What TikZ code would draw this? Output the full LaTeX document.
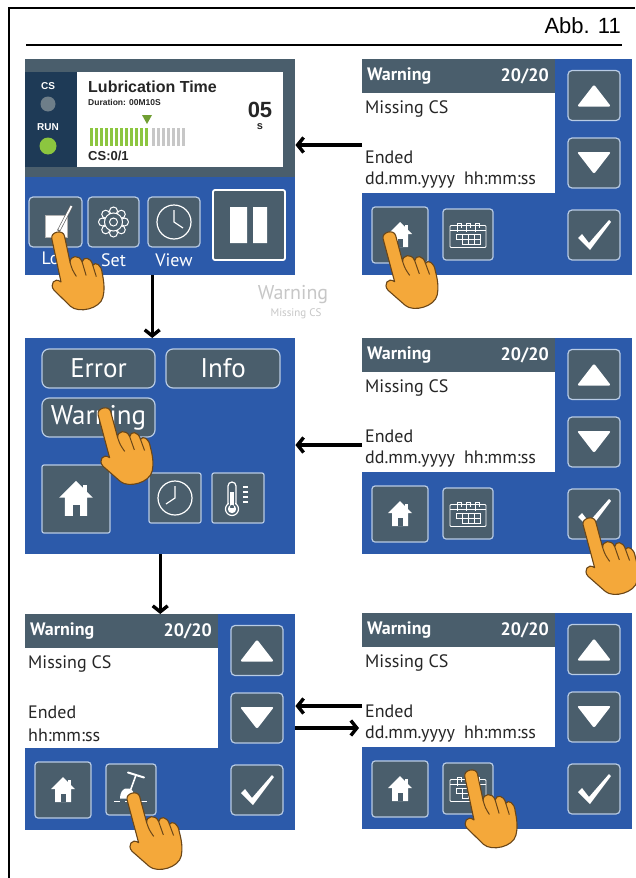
\documentclass[tikz,border=0pt]{standalone}
\usepackage{fontspec}
\setmainfont{PT Sans}
\newfontfamily\arialfont{Liberation Sans}
\usetikzlibrary{arrows.meta,calc,positioning}

\definecolor{scrblue}{HTML}{2C5AAA}
\definecolor{slate}{HTML}{4A5E6C}
\definecolor{navy}{HTML}{1E3A56}
\definecolor{btnedge}{HTML}{B8CBE4}
\definecolor{ledgreen}{HTML}{8CC63F}
\definecolor{handfill}{HTML}{F4A83A}
\definecolor{handline}{HTML}{6A4618}

\newcommand\fsz[1]{\fontsize{#1}{#1}\selectfont}

\tikzset{
  panel/.style={anchor=north west, fill=scrblue, minimum width=270, minimum height=216, inner sep=0pt},
  btn/.style={draw=btnedge, fill=slate, line width=1.2pt, rounded corners=4pt, inner sep=0pt, minimum width=52, minimum height=50},
  tab/.style={btn, rounded corners=7pt, minimum height=39, text=white, font=\fsz{27}},
  hdr/.style={inner sep=0pt, text=white, font=\bfseries\fsz{18}},
  msg/.style={inner sep=0pt, anchor=west, text=black!85, font=\fsz{18}},
  lcd/.style={inner sep=0pt, anchor=west, text=black!85},
  state/.style={inner sep=0pt, text=white, font=\arialfont\bfseries\fsz{10}},
  keylbl/.style={inner sep=0pt, text=white, font=\fsz{18}},
  ico/.style={draw=white, line width=1.2pt},
  flow/.style={line width=3.4pt, -{Straight Barb[length=6pt,width=15pt]}},
  % finger tip at the origin, hand hanging below it
  hand/.pic={
    \filldraw[fill=handfill, draw=handline, line width=1.1pt, line join=round]
      (-6,5) .. controls (-6,-1.5) and (6,-1.5) .. (6,5)
      -- (6,30)
      .. controls (7,24) and (16,24) .. (17,32)
      .. controls (19,27) and (26,29) .. (26,37)
      .. controls (29,34) and (34,38) .. (33,46)
      .. controls (33,55) and (32,62) .. (29,68)
      .. controls (24,78) and (4,78) .. (-2,70)
      -- (-14,52)
      .. controls (-17,46) and (-11,40) .. (-6,46)
      -- (-6,36) -- cycle;
    \draw[handline, line width=1pt] (6,30) .. controls (6.5,37) .. (9,44)
      (17,32) -- (18,45) (26,37) -- (27,48);
  },
  house/.pic={
    \fill[white] (5,-10) rectangle (8,-3);
    \fill[white] (0,-13) -- (12,-1) -- (8,-1) -- (8,12) -- (-8,12) -- (-8,-1) -- (-12,-1) -- cycle;
    \fill[slate] (-2.5,4) rectangle (2.5,12);
  },
  calendar/.pic={
    \draw[white, line width=0.9pt, rounded corners=1pt] (-18,-9) rectangle (18,13);
    \draw[white, line width=0.9pt] (-18,-4) -- (18,-4);
    \foreach \cx in {-9,0,9}
      \draw[white, line width=0.9pt] (\cx-2,-3) -- (\cx-2,-11) -- (\cx+2,-11) -- (\cx+2,-7);
    \draw[white, line width=0.8pt] (-6,0) rectangle (12,10) (-6,5) -- (12,5)
      (0,0) -- (0,10) (6,0) -- (6,10) (-12,0) rectangle (-6,5);
  },
  grease/.pic={
    \draw[white, line width=2pt, line cap=round] (-3,-17) -- (13,-12);
    \draw[white, line width=1.6pt] (5,-14.5) -- (-1,2);
    \fill[white] (-11,9) .. controls (-11,-2) and (-2,-4) .. (2,2) -- (3,9) -- cycle;
    \draw[white, line width=1.4pt] (-17,12) -- (-11,12) (-6,12) -- (16,12);
  },
  tri up/.pic={\fill[white, rounded corners=2pt] (-17,11) -- (17,11) -- (0,-11) -- cycle;},
  tri down/.pic={\fill[white, rounded corners=2pt] (-17,-11) -- (17,-11) -- (0,11) -- cycle;},
  tick/.pic={\fill[white] (-16,3) -- (-12,-1) -- (-5,8) -- (15,-15) -- (17,-13) -- (-4,15) -- cycle;},
  clock/.pic={
    \draw[ico] (0,0) circle (17);
    \draw[ico] (0,-12) -- (0,0) -- (#1);
  },
  gear/.pic={
    \foreach \a in {0,45,...,315}
      \draw[white, line width=1pt, fill=slate] (\a:11) circle (4);
    \draw[white, line width=1pt, fill=slate] (0,0) circle (9);
    \draw[white, line width=1pt] (0,0) circle (4);
  },
  notepad/.pic={
    \filldraw[fill=white, draw=black!30] (-10.5,-7) rectangle (11.5,15);
    \draw[black!60, line width=3.2pt] (3,9) -- (16,-16);
    \draw[white, line width=1.8pt] (3.6,7.8) -- (16,-16);
  },
  thermo/.pic={
    \draw[ico] (-6,11) circle (6.5);
    \fill[slate] (-9.4,2) rectangle (-2.6,7);
    \draw[ico, rounded corners=4pt] (-10,6) -- (-10,-16) -- (-2,-16) -- (-2,6);
    \fill[white] (-6,11) circle (4.2) (-7.8,-6) rectangle (-4.2,10);
    \foreach \ty in {-11,-6,-1,4}
      \draw[ico] (5,\ty) -- (10,\ty);
  }
}

% one warning screen: name, top left corner, last text line, pic on the second key
\newcommand\warnscreen[4]{%
  \begin{scope}[shift={#2}]
    \node[panel] (#1) at (0,0) {};
    \fill[slate] (0,0) rectangle (193,34);
    \fill[white] (0,34) rectangle (193,134);
    \node[hdr, anchor=west] (#1-title) at (5,17) {Warning};
    \node[hdr, anchor=east] (#1-count) at (187,17) {20/20};
    \node[msg] (#1-msg) at (3,50) {Missing CS};
    \node[msg] (#1-end) at (3,98) {Ended};
    \node[msg] (#1-time) at (3,121) {#3};
    \node[btn] (#1-up) at (232,36.5) {};
    \node[btn] (#1-down) at (232,104) {};
    \node[btn] (#1-ok) at (232,176) {};
    \node[btn, rounded corners=3pt, minimum width=56, minimum height=56] (#1-home) at (38,176) {};
    \node[btn, rounded corners=3pt, minimum width=50, minimum height=51] (#1-key) at (106,175.5) {};
    \pic at (#1-up) {tri up};
    \pic at (#1-down) {tri down};
    \pic at (#1-ok) {tick};
    \pic at (#1-home) {house};
    \pic at (#1-key) {#4};
  \end{scope}}

\begin{document}
\begin{tikzpicture}[x=1pt, y=-1pt]
  \useasboundingbox (0,0) rectangle (635,878);
  \fill[white] (0,0) rectangle (635,878);

  % page frame and caption
  \draw[line width=2pt] (9,878) -- (9,8) -- (635,8);
  \draw[line width=1.6pt] (26,45) -- (622,45);
  \node[inner sep=0pt, anchor=base east, font=\arialfont\fsz{22}] (caption) at (621,33) {Abb. 11};

  % main screen
  \begin{scope}[shift={(25,59)}]
    \node[panel] (home) at (0,0) {};
    \fill[slate] (0,0) rectangle (270,118);
    \fill[navy] (0,13) rectangle (52,108);
    \fill[white] (52,13) rectangle (258,108);
    \node[state] (home-cs) at (23,27) {CS};
    \fill[slate!80!white] (23,45) circle (7.5);
    \node[state] (home-run) at (23,68) {RUN};
    \fill[ledgreen] (23,87) circle (8.5);
    \node[lcd, font=\arialfont\bfseries\fsz{16}] (home-title) at (63,28) {Lubrication Time};
    \node[lcd, font=\arialfont\bfseries\fsz{8.5}] (home-dur) at (63,43) {Duration: 00M10S};
    \foreach \i in {0,...,11}
      \fill[ledgreen] (65+5*\i,69) rectangle ++(3,18);
    \foreach \i in {0,...,6}
      \fill[black!22] (127+5*\i,69) rectangle ++(3,18);
    \fill[ledgreen!80!black] (117,56) -- (127,56) -- (122,65) -- cycle;
    \node[lcd, font=\arialfont\bfseries\fsz{13}] (home-count) at (63,97) {CS:0/1};
    \node[lcd, anchor=center, font=\arialfont\bfseries\fsz{22}] (home-secs) at (235,51) {05};
    \node[lcd, anchor=center, font=\arialfont\bfseries\fsz{11}] (home-unit) at (235,68) {s};
    \node[btn, minimum width=53] (home-log) at (30.5,163) {};
    \node[btn, minimum width=51] (home-set) at (88.5,163) {};
    \node[btn] (home-view) at (149,163) {};
    \node[btn, draw=white, line width=1.8pt, rounded corners=2pt, minimum width=72, minimum height=70] (home-pause) at (224,166) {};
    \pic at (home-log) {notepad};
    \pic at (home-set) {gear};
    \pic at (home-view) {clock={9,6}};
    \fill[white] (205,148) rectangle (222,184) (228,148) rectangle (242,184);
    \node[keylbl] (home-log-t) at (30.5,201) {Log};
    \node[keylbl] (home-set-t) at (88.5,201) {Set};
    \node[keylbl] (home-view-t) at (149,201) {View};
  \end{scope}

  % faint popup text behind the screens
  \node[inner sep=0pt, text=black!22, font=\fsz{20}] (ghost) at (293,295) {Warning};
  \node[inner sep=0pt, text=black!22, font=\fsz{11}] (ghost-msg) at (296,314) {Missing CS};

  % menu screen
  \begin{scope}[shift={(25,338)}]
    \node[panel] (menu) at (0,0) {};
    \node[tab, minimum width=113] (menu-error) at (73.5,30.5) {Error};
    \node[tab, minimum width=114] (menu-info) at (198,30.5) {Info};
    \node[tab, minimum width=113] (menu-warn) at (73.5,79.5) {Warning};
    \node[btn, rounded corners=2pt, minimum width=68, minimum height=68] (menu-home) at (51,161) {};
    \node[btn, rounded corners=2pt] (menu-clock) at (150,160) {};
    \node[btn, rounded corners=2pt] (menu-temp) at (213,160) {};
    \pic[scale=1.4] at (menu-home) {house};
    \pic at (menu-clock) {clock={-9,6}};
    \pic at (menu-temp) {thermo};
  \end{scope}

  \warnscreen{warnA}{(362,59)}{dd.mm.yyyy\enspace hh:mm:ss}{calendar}
  \warnscreen{warnB}{(362,338)}{dd.mm.yyyy\enspace hh:mm:ss}{calendar}
  \warnscreen{warnC}{(25,614)}{hh:mm:ss}{grease}
  \warnscreen{warnD}{(362,613)}{dd.mm.yyyy\enspace hh:mm:ss}{calendar}

  % flow between the screens
  \coordinate (fromA) at ($(warnA.north west)+(0,86)$);
  \coordinate (fromB) at ($(warnB.north west)+(0,107)$);
  \coordinate (backD) at ($(warnD.north west)+(0,93)$);
  \coordinate (intoD) at ($(warnD.north west)+(-3,115)$);
  \coordinate (down1) at ($(home.south)+(-8,0)$);
  \draw[flow] (fromA) -- (fromA -| home.east);
  \draw[flow] (fromB) -- (fromB -| menu.east);
  \draw[flow] (down1) -- (down1 |- menu.north);
  \draw[flow] (menu.south) -- (menu.south |- warnC.north);
  \draw[flow] (backD) -- (backD -| warnC.east);
  \draw[flow] (intoD -| warnC.east) -- (intoD);

  % touching fingers
  \pic[rotate=12, scale=1.08] at (57,232) {hand};
  \pic[rotate=15, scale=1.08] at (388,232) {hand};
  \pic[rotate=15, scale=1.08] at (103,408) {hand};
  \pic[rotate=15, scale=1.08] at (588,518) {hand};
  \pic[rotate=15, scale=1.08] at (132,793) {hand};
  \pic[rotate=12, scale=1.08] at (470,770) {hand};
\end{tikzpicture}
\end{document}
